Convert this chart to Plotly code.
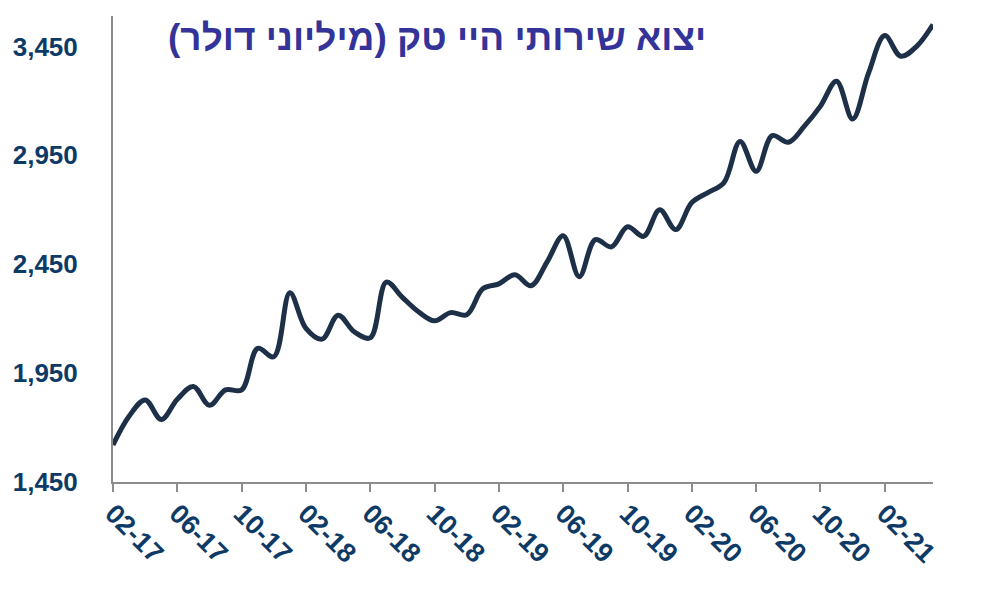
import plotly.graph_objects as go

months = [
    "02-17", "03-17", "04-17", "05-17", "06-17", "07-17", "08-17", "09-17", "10-17", "11-17", "12-17",
    "01-18", "02-18", "03-18", "04-18", "05-18", "06-18", "07-18", "08-18", "09-18", "10-18", "11-18", "12-18",
    "01-19", "02-19", "03-19", "04-19", "05-19", "06-19", "07-19", "08-19", "09-19", "10-19", "11-19", "12-19",
    "01-20", "02-20", "03-20", "04-20", "05-20", "06-20", "07-20", "08-20", "09-20", "10-20", "11-20", "12-20",
    "01-21", "02-21", "03-21", "04-21", "05-21",
]

exports = [
    1620, 1752, 1827, 1737, 1830, 1889, 1802, 1873, 1873, 2064, 2025,
    2319, 2155, 2106, 2216, 2140, 2112, 2368, 2298, 2232, 2190, 2228, 2218,
    2337, 2360, 2402, 2351, 2461, 2581, 2393, 2563, 2530, 2622, 2578, 2700,
    2609, 2733, 2779, 2825, 3014, 2877, 3041, 3010, 3084, 3176, 3290, 3117,
    3330, 3500, 3405, 3452, 3551,
]

x_tick_labels = ["02-17", "06-17", "10-17", "02-18", "06-18", "10-18", "02-19",
                 "06-19", "10-19", "02-20", "06-20", "10-20", "02-21"]

y_tick_values = [1450, 1950, 2450, 2950, 3450]
y_tick_labels = ["1,450", "1,950", "2,450", "2,950", "3,450"]

title_text = "יצוא שירותי היי טק (מיליוני דולר)"

label_color = "#0e3a66"
axis_color = "#8c8c8c"
font_family = "Arial, Liberation Sans, sans-serif"

fig = go.Figure()
fig.add_trace(go.Scatter(
    x=months,
    y=exports,
    mode="lines",
    line=dict(color="#1d3047", width=5, shape="spline", smoothing=1.0),
    hoverinfo="x+y",
    showlegend=False,
))

fig.update_layout(
    width=1000,
    height=594,
    margin=dict(l=105, r=75, t=8, b=120),
    paper_bgcolor="white",
    plot_bgcolor="white",
    font=dict(family=font_family, color=label_color),
    annotations=[dict(
        text="<b>" + title_text + "</b>",
        xref="paper", yref="paper",
        x=0.395, y=0.953,
        xanchor="center", yanchor="middle",
        showarrow=False,
        font=dict(family=font_family, size=37, color="#333399"),
    )],
)

fig.update_xaxes(
    type="category",
    range=[0, len(months) - 1],
    tickmode="array",
    tickvals=x_tick_labels,
    ticktext=["<b>" + t + "</b>" for t in x_tick_labels],
    tickangle=45,
    ticks="outside",
    ticklen=8,
    tickwidth=2,
    tickcolor=axis_color,
    showline=True,
    linecolor=axis_color,
    linewidth=2,
    showgrid=False,
    zeroline=False,
    automargin=False,
    ticklabelstandoff=-5,
    tickfont=dict(family=font_family, size=27, color=label_color),
)

fig.update_yaxes(
    range=[1450, 3590],
    tickmode="array",
    tickvals=y_tick_values,
    ticktext=["<b>" + t + "</b>" for t in y_tick_labels],
    ticks="",
    showline=True,
    linecolor=axis_color,
    linewidth=2,
    showgrid=False,
    zeroline=False,
    automargin=False,
    ticklabelstandoff=28,
    tickfont=dict(family=font_family, size=26, color=label_color),
)

fig.write_html("out.html")
